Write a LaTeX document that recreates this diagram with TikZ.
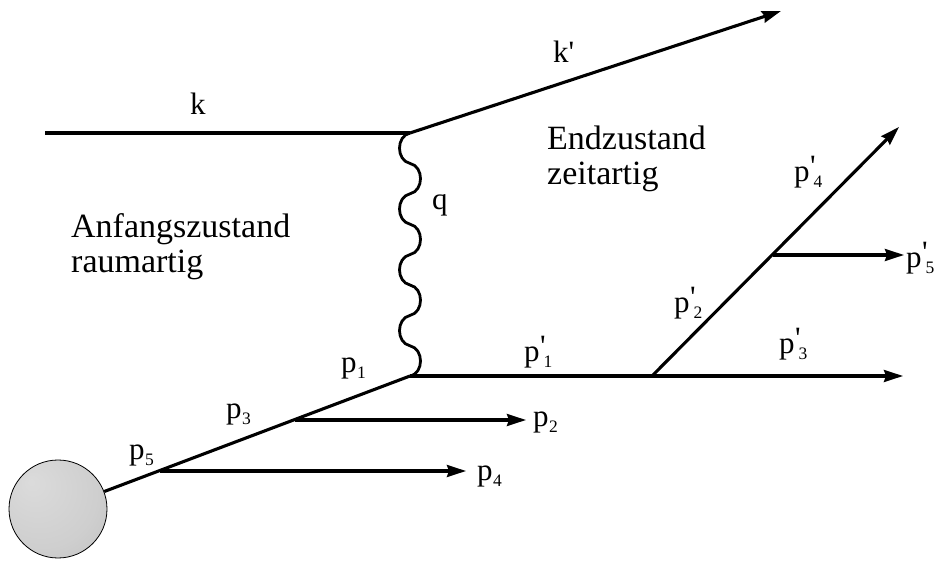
\documentclass[tikz,border=0pt]{standalone}
\usepackage{fontspec}
\setmainfont{Liberation Serif}
\newfontfamily\primefont{Liberation Serif}[Ligatures=TeXOff]
\usetikzlibrary{arrows.meta}
\newcommand\subsz{\fontsize{17.5}{17.5}\selectfont}
\newcommand\prm{{\primefont\char39}}
\newcommand\plab[1]{p\raisebox{-6pt}{\subsz\kern0.5pt #1}}
\newcommand\pplab[1]{p\rlap{\raisebox{5pt}{\kern0.5pt\prm}}\raisebox{-6pt}{\subsz\kern4pt #1}}
\pgfdeclareradialshading{ballsh}{\pgfpoint{-14bp}{14bp}}{color(0bp)=(black!14); color(28bp)=(black!19); color(50bp)=(black!26); color(64bp)=(black!34)}
\begin{document}
\begin{tikzpicture}[x=1pt,y=-1pt,
  ln/.style={line width=3.1pt},
  arr/.style={ln,-{Stealth[length=19pt,width=12pt,inset=2pt]}},
  lab/.style={font=\fontsize{31}{31}\selectfont,inner sep=0pt,anchor=base west},
  txt/.style={font=\fontsize{34}{35}\selectfont,inner sep=0pt,anchor=base west,align=left}]
\useasboundingbox (0,0) rectangle (938,561);
% vertices
\coordinate (A) at (45,133);
\coordinate (V1) at (410,133);
\coordinate (K2) at (781,11);
\coordinate (V2) at (410,376);
\coordinate (C5) at (160,471);
\coordinate (C3) at (295,420);
\coordinate (P4) at (466,471);
\coordinate (P2) at (526,420);
\coordinate (D1) at (652,376);
\coordinate (P3) at (903,376);
\coordinate (D2) at (773,255);
\coordinate (P5) at (904,255);
\coordinate (P4b) at (899,127);
% blob
\node[circle,minimum size=98pt,inner sep=0pt,draw,line width=0.8pt,shading=ballsh] (blob) at (58,509) {};
% lines
\draw[ln] (A) -- (V1);
\draw[arr] (V1) -- (K2);
\draw[ln] (blob) -- (V2);
\draw[arr] (C5) -- (P4);
\draw[arr] (C3) -- (P2);
\draw[arr] (V2) -- (P3);
\draw[arr] (D1) -- (P4b);
\draw[arr] (D2) -- (P5);
% photon
\draw[ln,line width=2.8pt] (V1) \foreach \s in {1,-1,1,-1,1,-1,1,-1} { .. controls +(-\s*14,3) and +(-\s*14,-3) .. ++(0,30.4) };
% labels
\node[lab] (lk) at (190,115) {k};
\node[lab] (lk2) at (553,63) {k\prm};
\node[lab] (lq) at (432,210) {q};
\node[lab] (lp1) at (341,373) {\plab{1}};
\node[lab] (lp3) at (226,419) {\plab{3}};
\node[lab] (lp2) at (533,427) {\plab{2}};
\node[lab] (lp4) at (477,480) {\plab{4}};
\node[lab] (lp5) at (129,460) {\plab{5}};
\node[lab] (lq1) at (524,362) {\pplab{1}};
\node[lab] (lq3) at (779,354) {\pplab{3}};
\node[lab] (lq2) at (674,313) {\pplab{2}};
\node[lab] (lq4) at (794,182) {\pplab{4}};
\node[lab] (lq5) at (906,268) {\pplab{5}};
\node[txt] (ta) at (71,273) {Anfangszustand\\raumartig};
\node[txt] (te) at (547,185) {Endzustand\\zeitartig};
\end{tikzpicture}
\end{document}
